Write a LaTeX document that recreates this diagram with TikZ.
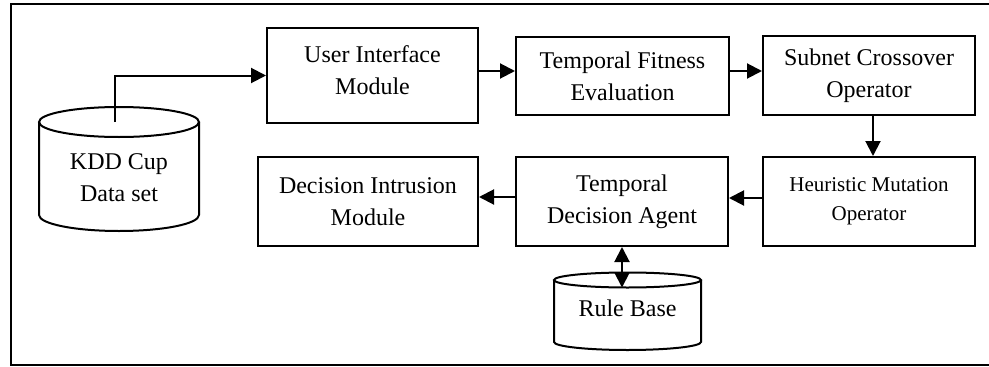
\documentclass[tikz,border=0pt]{standalone}
\usepackage{fontspec}
\setmainfont{Liberation Serif}
\usetikzlibrary{arrows.meta}
\begin{document}
\begin{tikzpicture}[x=1pt,y=-1pt,
  box/.style={draw,line width=2pt,rectangle,inner sep=0pt,align=center,
    font=\fontsize{24}{32}\selectfont},
  lbl/.style={inner sep=0pt,align=center,font=\fontsize{24}{32}\selectfont},
  arr/.style={line width=2pt,-{Triangle[length=15pt,width=15pt]}},
  darr/.style={line width=2pt,{Triangle[length=15pt,width=15pt]}-{Triangle[length=15pt,width=15pt]}},
  cyl/.style={line width=2pt}]
\useasboundingbox (0,0) rectangle (989,367);
% frame
\draw[line width=2pt] (995,4) -- (11,4) -- (11,365) -- (995,365);
% boxes
\node[box,minimum width=211pt,minimum height=95pt] (ui) at (372.5,75.5) {User Interface\\Module\\[-22pt]\mbox{}};
\node[box,minimum width=213pt,minimum height=78pt] (tf) at (622.5,76) {Temporal Fitness\\Evaluation};
\node[box,minimum width=212pt,minimum height=79pt] (sc) at (869,75.5) {Subnet Crossover\\Operator};
\node[box,minimum width=212pt,minimum height=89pt,font=\fontsize{21}{29}\selectfont] (hm) at (869,201.5) {Heuristic Mutation\\Operator};
\node[box,minimum width=212pt,minimum height=89pt] (tda) at (622,201.5) {Temporal\\Decision Agent};
\node[box,minimum width=220pt,minimum height=89pt] (di) at (368,201.5) {Decision Intrusion\\Module};
% KDD cylinder
\draw[cyl] (119,122) ellipse [x radius=80, y radius=15];
\draw[cyl] (39,122) -- (39,215) arc[start angle=180,end angle=0,x radius=80,y radius=16] -- (199,122);
\node[lbl] (kdd) at (119,178) {KDD Cup\\Data set};
\coordinate (kddtop) at (115,122);
% Rule base cylinder
\draw[cyl] (627.5,280) ellipse [x radius=73.5, y radius=7.5];
\draw[cyl] (554,280) -- (554,342) arc[start angle=180,end angle=0,x radius=73.5,y radius=8] -- (701,280);
\node[lbl] (rb) at (627.5,308) {Rule Base};
\coordinate (rbtop) at (622,287.5);
% connectors
\draw[arr] (kddtop) |- (ui.west);
\draw[arr] (ui.east |- 0,71) -- (tf.west |- 0,71);
\draw[arr] (tf.east |- 0,71) -- (sc.west |- 0,71);
\draw[arr] (sc.south -| 873,0) -- (hm.north -| 873,0);
\draw[arr] (hm.west |- 0,198) -- (tda.east |- 0,198);
\draw[arr] (tda.west |- 0,197) -- (di.east |- 0,197);
\draw[darr] (tda.south -| rbtop) -- (rbtop);
\end{tikzpicture}
\end{document}
